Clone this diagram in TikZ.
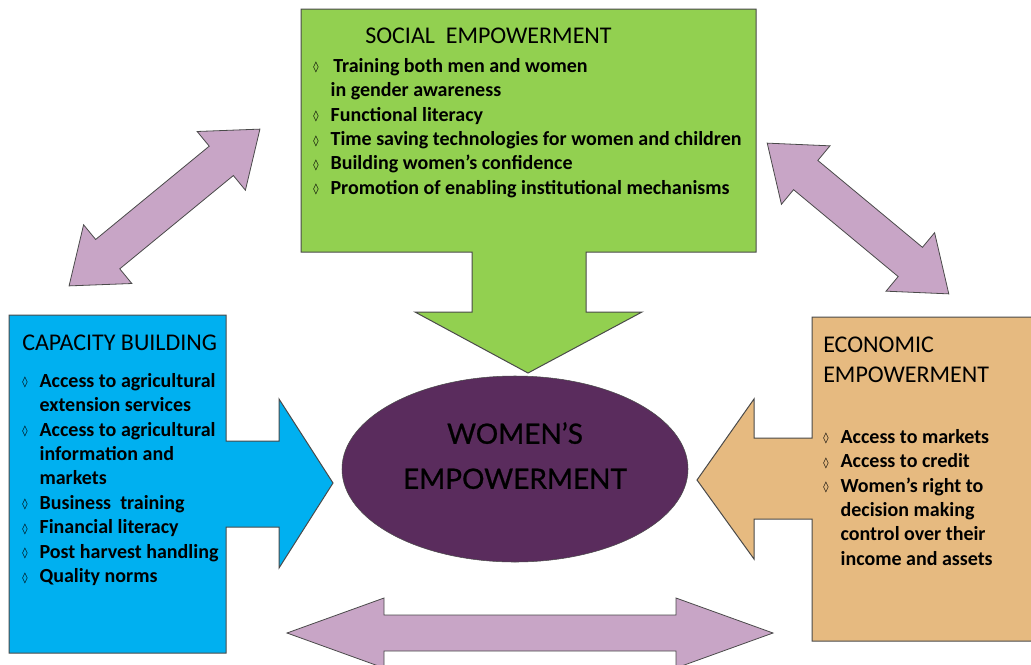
\documentclass[tikz,border=0pt]{standalone}
\usepackage{fontspec}
\setmainfont{Carlito}
\newfontfamily\dejavu{DejaVu Sans}
\newfontfamily\coresans{Lato}[FakeBold=0.8]
\usetikzlibrary{shapes.geometric}
\definecolor{socialgreen}{HTML}{92D050}
\definecolor{capblue}{HTML}{00B0F0}
\definecolor{econtan}{HTML}{E6BA80}
\definecolor{linklilac}{HTML}{C8A5C6}
\definecolor{corepurple}{HTML}{5A2C5D}
\definecolor{edgegray}{HTML}{4A4A4A}
\newcommand{\dia}{\makebox[13pt][l]{\dejavu\fontsize{8}{8}\selectfont\raisebox{1pt}{◊}}}
\newcommand{\ind}{\hspace*{13pt}}
\begin{document}
\begin{tikzpicture}[x=0.75pt,y=-0.75pt,
  panel/.style={draw=edgegray,line width=0.75pt},
  fat/.style={draw=edgegray,line width=0.6pt,fill=linklilac},
  head/.style={anchor=north west,inner sep=0pt,align=left,font=\fontsize{18}{22.5}\selectfont},
  items/.style={anchor=north west,inner sep=0pt,align=left,font=\fontsize{15}{18.3}\selectfont\bfseries},
  core/.style={ellipse,draw=edgegray,fill=corepurple,minimum width=259.5pt,minimum height=139.5pt},
  pics/fatarrow/.style n args={4}{code={
    \draw[fat] ({-#1/2},0) -- ({-#1/2+#2},#3) -- ({-#1/2+#2},#4) -- ({#1/2-#2},#4)
      -- ({#1/2-#2},#3) -- ({#1/2},0) -- ({#1/2-#2},-#3) -- ({#1/2-#2},-#4)
      -- ({-#1/2+#2},-#4) -- ({-#1/2+#2},-#3) -- cycle;}}]
\useasboundingbox (0,0) rectangle (1031,664);
\clip (0,0) rectangle (1031,664);
% lilac links
\path (164.5,207.5) pic[rotate=39.4]{fatarrow={247}{50}{38}{19}};
\path (858,218.5) pic[rotate=-39.7]{fatarrow={236}{50}{38}{19}};
\path (530,633) pic{fatarrow={486}{97}{35}{18}};
% the three panels
\draw[panel,fill=socialgreen] (301,9) -- (756,9) -- (756,252) -- (586,252) -- (586,312) -- (642,312)
  -- (528,373) -- (415,312) -- (472,312) -- (472,252) -- (301,252) -- cycle;
\draw[panel,fill=capblue] (9,315) -- (226,315) -- (226,441) -- (279,441) -- (279,399) -- (333,483)
  -- (279,568) -- (279,527) -- (226,527) -- (226,653) -- (9,653) -- cycle;
\draw[panel,fill=econtan] (1040,317) -- (812,317) -- (812,438) -- (754,438) -- (754,399) -- (697,480)
  -- (754,559) -- (754,519) -- (812,519) -- (812,641) -- (1040,641) -- cycle;
\node[core] (women) at (515,469) {};
\node[font=\coresans\fontsize{21}{33.75}\selectfont,align=center,inner sep=0pt] (womentext)
  at ([yshift=10pt]women.center) {WOMEN’S\\EMPOWERMENT};
% texts
\node[head] (socialtitle) at (365,28) {SOCIAL\ \ EMPOWERMENT};
\node[items] (socialitems) at (313,58) {\dia\hspace{2pt}Training both men and women\\
  \ind in gender awareness\\\dia Functional literacy\\
  \dia Time saving technologies for women and children\\
  \dia Building women’s confidence\\\dia Promotion of enabling institutional mechanisms};
\node[head] (captitle) at (22,335) {CAPACITY BUILDING};
\node[items] (capitems) at (22,373) {\dia Access to agricultural\\\ind extension services\\
  \dia Access to agricultural\\\ind information and\\\ind markets\\
  \dia Business\ \ training\\\dia Financial literacy\\\dia Post harvest handling\\\dia Quality norms};
\node[head] (econtitle) at (823,337) {ECONOMIC\\EMPOWERMENT};
\node[items] (econitems) at (823,429) {\dia Access to markets\\\dia Access to credit\\
  \dia Women’s right to\\\ind decision making\\\ind control over their\\\ind income and assets};
\end{tikzpicture}
\end{document}
